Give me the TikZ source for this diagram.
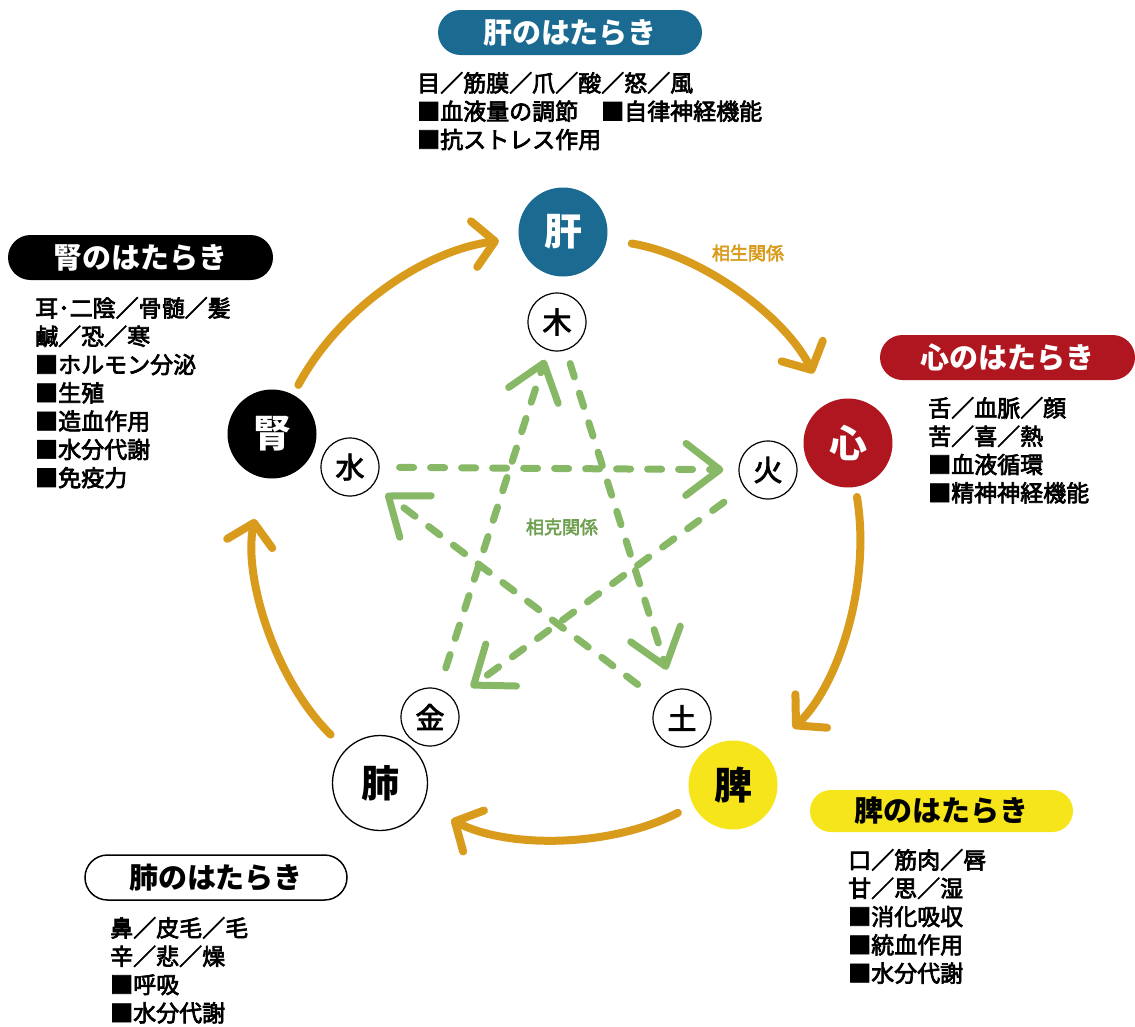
\documentclass[tikz,border=0pt]{standalone}
\usepackage{fontspec}
\setmainfont{Noto Sans CJK JP}
\newfontfamily\medfont[FakeBold=3]{Noto Sans CJK JP}
\usetikzlibrary{arrows.meta,shapes.misc}
\definecolor{kanblue}{HTML}{1A6A91}
\definecolor{shinred}{HTML}{B0161F}
\definecolor{hiyellow}{HTML}{F6E51A}
\definecolor{shengorange}{HTML}{D89B1C}
\definecolor{kegreen}{HTML}{86B865}
\definecolor{kelabelgreen}{HTML}{6FA04F}
\begin{document}
\begin{tikzpicture}[x=1pt,y=-1pt,
  organ/.style={circle, minimum size=89pt, inner sep=0pt, font=\fontsize{38}{38}\selectfont\bfseries},
  elem/.style={circle, draw=black, line width=1.2pt, fill=white, minimum size=58pt, inner sep=0pt, font=\fontsize{29}{29}\selectfont\medfont},
  pill/.style={rounded rectangle, minimum height=45pt, inner sep=0pt, font=\fontsize{29}{29}\selectfont\bfseries},
  body/.style={anchor=north west, align=left, inner sep=0pt, font=\fontsize{23}{28.3}\selectfont\medfont},
  sheng/.style={draw=shengorange, line width=8pt, line cap=round, looseness=0.9, -{Straight Barb[length=21pt,width=46pt,round]}},
  ke/.style={draw=kegreen, line width=7pt, line cap=round, dash pattern=on 14pt off 17pt, -{Straight Barb[length=34pt,width=52pt,round]}}
]
\useasboundingbox (0,0) rectangle (1135,1026);
\fill[white] (0,0) rectangle (1135,1026);

% title pills
\node[pill, fill=kanblue, text=white, minimum width=264pt] (kantitle) at (570,32.5) {肝のはたらき};
\node[pill, fill=black, text=white, minimum width=265pt] (jintitle) at (140.5,257.5) {腎のはたらき};
\node[pill, fill=shinred, text=white, minimum width=255pt] (shintitle) at (1007.5,357.5) {心のはたらき};
\node[pill, fill=hiyellow, text=black, minimum width=263pt, minimum height=42pt] (hititle) at (941.5,811) {脾のはたらき};
\node[pill, fill=white, draw=black, line width=1.5pt, text=black, minimum width=262pt] (haititle) at (216,877.5) {肺のはたらき};

% body texts
\node[body] (kantext) at (417,72) {目／筋膜／爪／酸／怒／風\\■血液量の調節　■自律神経機能\\■抗ストレス作用};
\node[body] (jintext) at (35,297) {耳･二陰／骨髄／髪\\鹹／恐／寒\\■ホルモン分泌\\■生殖\\■造血作用\\■水分代謝\\■免疫力};
\node[body] (shintext) at (928,397) {舌／血脈／顔\\苦／喜／熱\\■血液循環\\■精神神経機能};
\node[body] (hitext) at (848,849) {口／筋肉／唇\\甘／思／湿\\■消化吸収\\■統血作用\\■水分代謝};
\node[body] (haitext) at (110,917) {鼻／皮毛／毛\\辛／悲／燥\\■呼吸\\■水分代謝};

% organ circles
\node[organ, fill=kanblue, text=white] (kan) at (563,232) {肝};
\node[organ, fill=shinred, text=white] (shin) at (848,443) {心};
\node[organ, fill=hiyellow, text=black] (hi) at (733,785) {脾};
\node[organ, fill=white, draw=black, line width=1.3pt, text=black, minimum size=95pt] (hai) at (380,783) {肺};
\node[organ, fill=black, text=white] (jin) at (272,434) {腎};

% element circles
\node[elem] (moku) at (557,322) {木};
\node[elem] (ka) at (768,470) {火};
\node[elem] (do) at (682,718) {土};
\node[elem] (kin) at (430,717) {金};
\node[elem] (sui) at (350,467) {水};

% labels
\node[text=shengorange, font=\fontsize{18}{18}\selectfont\medfont] (shenglabel) at (748,253) {相生関係};
\node[text=kelabelgreen, font=\fontsize{18}{18}\selectfont\medfont] (kelabel) at (562,527) {相克関係};

% sheng cycle
\draw[sheng, shorten <=25pt, shorten >=33pt] (kan) to[bend left=27] (shin);
\draw[sheng, shorten <=10pt, shorten >=38pt] (shin) to[bend left=28] (hi);
\draw[sheng, shorten <=17pt, shorten >=32pt] (hi) to[bend left=27] (hai);
\draw[sheng, shorten <=21pt, shorten >=42pt] (hai) to[bend left=28.5] (jin);
\draw[sheng, shorten <=11pt, shorten >=20pt] (jin) to[bend left=27] (kan);

% ke cycle
\draw[ke, shorten <=14pt, shorten >=21pt] (moku) -- (do);
\draw[ke, shorten <=26pt, shorten >=15pt] (do) -- (sui);
\draw[ke, shorten <=20pt, shorten >=15pt] (sui) -- (ka);
\draw[ke, shorten <=25pt, shorten >=21pt] (ka) -- (kin);
\draw[ke, shorten <=22pt, shorten >=10pt] (kin) -- (moku);
\end{tikzpicture}
\end{document}
